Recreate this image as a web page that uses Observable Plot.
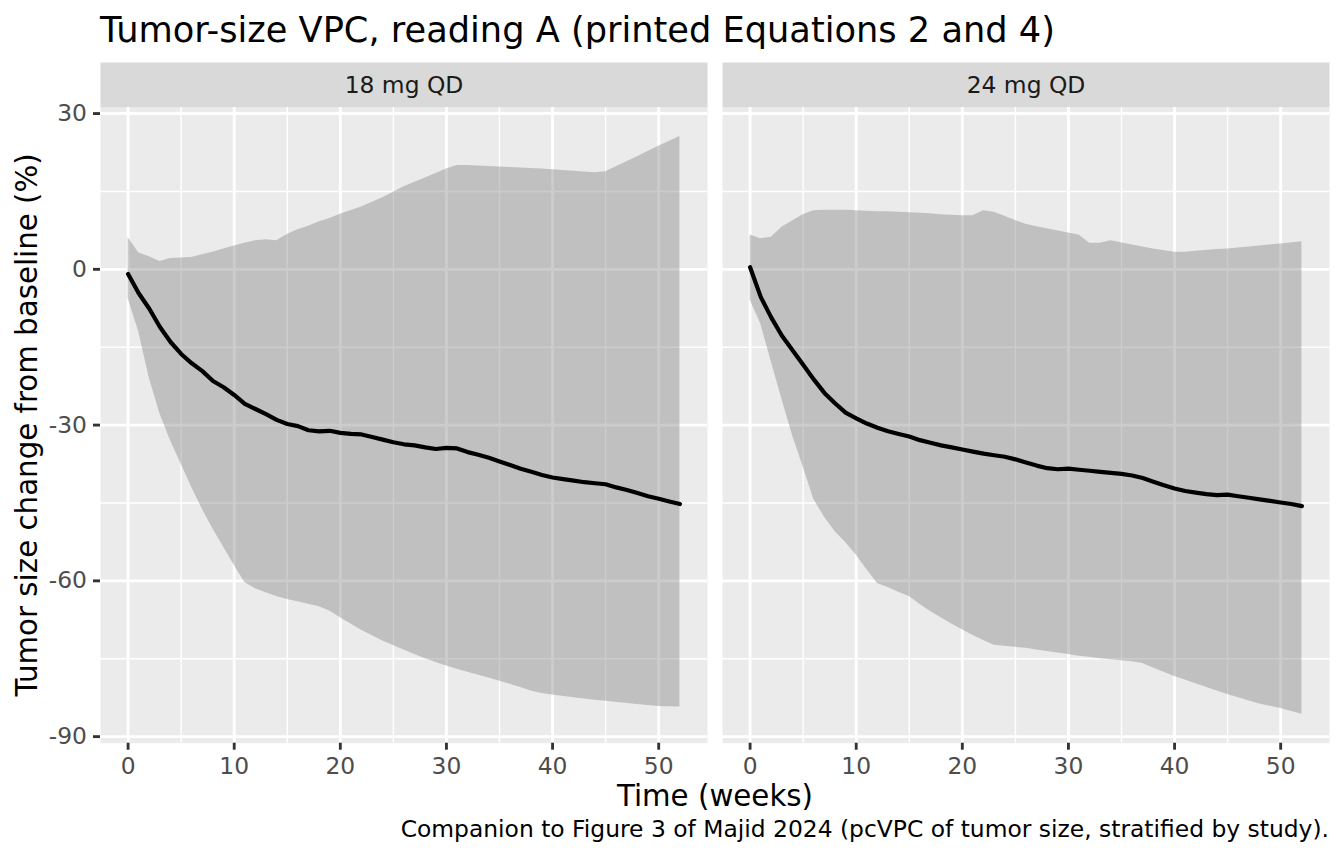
<!DOCTYPE html>
<html>
<head>
<meta charset="utf-8">
<script src="https://cdn.jsdelivr.net/npm/d3@7"></script>
<script src="https://cdn.jsdelivr.net/npm/@observablehq/plot@0.6"></script>
<style>
  html, body { margin: 0; padding: 0; background: white; }
  #chart { width: 1344px; height: 864px; }
</style>
</head>
<body>
<div id="chart"></div>
<script>
// ---- Data ----
const doses = ["18 mg QD", "24 mg QD"];

const xTicks = [0, 10, 20, 30, 40, 50];
const xMinor = [5, 15, 25, 35, 45];
const yTicks = [-90, -60, -30, 0, 30];
const yMinor = [-75, -45, -15, 15];

// median line, weekly
const medWeeks = [0,1,2,3,4,5,6,7,8,9,10,11,12,13,14,15,16,17,18,19,20,21,22,23,24,25,26,27,28,29,30,31,32,33,34,35,36,37,38,39,40,41,42,43,44,45,46,47,48,49,50,51,52];
const med18 = [-0.9,-4.6,-7.6,-11.1,-14.0,-16.3,-18.1,-19.6,-21.5,-22.7,-24.2,-25.9,-26.9,-27.9,-29.0,-29.8,-30.2,-31.0,-31.2,-31.1,-31.5,-31.7,-31.8,-32.3,-32.8,-33.3,-33.7,-33.9,-34.3,-34.6,-34.4,-34.5,-35.2,-35.7,-36.3,-37.0,-37.7,-38.4,-39.0,-39.6,-40.1,-40.4,-40.7,-41.0,-41.2,-41.4,-42.0,-42.5,-43.1,-43.7,-44.2,-44.7,-45.2];
const med24 = [0.4,-5.3,-9.3,-12.8,-15.6,-18.4,-21.2,-23.8,-25.8,-27.6,-28.7,-29.7,-30.5,-31.2,-31.7,-32.2,-32.9,-33.4,-33.9,-34.3,-34.7,-35.1,-35.5,-35.8,-36.1,-36.6,-37.2,-37.8,-38.3,-38.5,-38.4,-38.6,-38.8,-39.0,-39.2,-39.4,-39.7,-40.2,-40.9,-41.6,-42.2,-42.7,-43.0,-43.3,-43.5,-43.4,-43.7,-44.0,-44.3,-44.6,-44.9,-45.2,-45.6];

// prediction interval band, 18 mg QD
const bandWeeks18 = [0,1,2,3,4,5,6,7,8,9,10,11,12,13,14,15,16,17,18,19,20,22,24,26,28,30,31,32,34,36,38,39,40,42,44,45,48,50,52];
const hi18 = [6.1,3.2,2.4,1.5,2.1,2.2,2.3,2.8,3.3,3.9,4.5,5.0,5.5,5.7,5.5,6.7,7.6,8.3,9.1,9.8,10.6,12.0,13.8,15.9,17.6,19.3,20.0,20.0,19.8,19.6,19.4,19.3,19.2,18.9,18.6,18.8,21.7,23.7,25.6];
const lo18 = [-5.6,-12.0,-21.0,-27.8,-33.0,-37.5,-42.0,-46.2,-50.0,-53.5,-57.0,-60.3,-61.5,-62.3,-63.0,-63.6,-64.0,-64.5,-65.0,-65.8,-67.1,-69.5,-71.6,-73.3,-75.0,-76.4,-77.0,-77.6,-78.7,-79.9,-81.2,-81.7,-82.0,-82.5,-83.0,-83.2,-83.8,-84.2,-84.3];

// prediction interval band, 24 mg QD
const bandWeeks24 = [0,1,2,3,4,5,6,7,8,9,10,11,12,13,14,15,16,17,18,19,20,21,22,23,24,25,26,27,28,30,31,32,33,34,36,37,38,40,41,42,44,45,48,50,52];
const hi24 = [6.6,5.9,6.2,8.1,9.3,10.5,11.3,11.4,11.4,11.4,11.3,11.2,11.1,11.1,11.0,10.9,10.8,10.7,10.5,10.4,10.3,10.3,11.3,11.0,10.2,9.4,8.7,8.2,7.8,7.0,6.6,5.0,5.0,5.5,4.7,4.3,3.9,3.3,3.3,3.5,3.8,3.9,4.5,4.9,5.3];
const lo24 = [-5.9,-10.5,-17.8,-25.0,-32.0,-38.0,-44.3,-47.7,-50.5,-52.6,-55.0,-57.8,-60.5,-61.3,-62.2,-63.0,-64.5,-65.9,-67.1,-68.3,-69.4,-70.5,-71.5,-72.4,-72.6,-72.8,-73.0,-73.3,-73.6,-74.2,-74.5,-74.7,-75.0,-75.2,-75.6,-75.9,-76.8,-78.4,-79.1,-79.8,-81.2,-81.9,-83.7,-84.6,-85.7];

const titleText = "Tumor-size VPC, reading A (printed Equations 2 and 4)";
const xTitle = "Time (weeks)";
const yTitle = "Tumor size change from baseline (%)";
const captionText = "Companion to Figure 3 of Majid 2024 (pcVPC of tumor size, stratified by study).";

// ---- tables built from the arrays ----
const bandRows = [
  ...bandWeeks18.map((w, i) => ({dose: doses[0], week: w, lo: lo18[i], hi: hi18[i]})),
  ...bandWeeks24.map((w, i) => ({dose: doses[1], week: w, lo: lo24[i], hi: hi24[i]}))
];
const medRows = [
  ...medWeeks.map((w, i) => ({dose: doses[0], week: w, med: med18[i]})),
  ...medWeeks.map((w, i) => ({dose: doses[1], week: w, med: med24[i]}))
];

// ggplot-like 5% expansion
function expand(ext) { const r = ext[1] - ext[0]; return [ext[0] - 0.05 * r, ext[1] + 0.05 * r]; }
const xDom = expand(d3.extent([...bandRows.map(d => d.week), ...medRows.map(d => d.week)]));
const yDom = expand(d3.extent([...bandRows.flatMap(d => [d.lo, d.hi]), ...medRows.map(d => d.med)]));

// ---- layout ----
const W = 1344, H = 864;
const mTop = 107, mBottom = 121.3, mLeft = 100, mRight = 14;
const panelH = H - mTop - mBottom;
const stripH = 45;
const fs = 23.4;

const svg = Plot.plot({
  width: W,
  height: H,
  marginTop: mTop,
  marginBottom: mBottom,
  marginLeft: mLeft,
  marginRight: mRight,
  style: {fontFamily: "DejaVu Sans", fontSize: fs + "px", background: "white", overflow: "visible"},
  fx: {domain: doses, paddingInner: 0.0235, paddingOuter: 0, axis: null},
  x: {domain: xDom},
  y: {domain: yDom},
  marks: [
    Plot.frame({fill: "#ebebeb", stroke: null}),
    Plot.frame({fill: "#d9d9d9", stroke: null, insetTop: -stripH, insetBottom: panelH}),
    Plot.gridX(xMinor, {stroke: "white", strokeOpacity: 1, strokeWidth: 1.42}),
    Plot.gridY(yMinor, {stroke: "white", strokeOpacity: 1, strokeWidth: 1.42}),
    Plot.gridX(xTicks, {stroke: "white", strokeOpacity: 1, strokeWidth: 2.85}),
    Plot.gridY(yTicks, {stroke: "white", strokeOpacity: 1, strokeWidth: 2.85}),
    Plot.areaY(bandRows, {fx: "dose", x: "week", y1: "lo", y2: "hi", fill: "#7f7f7f", fillOpacity: 0.4}),
    Plot.line(medRows, {fx: "dose", x: "week", y: "med", stroke: "black", strokeWidth: 4.2}),
    Plot.axisX(xTicks, {label: null, tickSize: 7, tickPadding: 7.3, stroke: "#333333", strokeWidth: 2.85, fill: "#4d4d4d", fontSize: fs}),
    Plot.axisY(yTicks, {label: null, tickSize: 7, tickPadding: 6.5, stroke: "#333333", strokeWidth: 2.85, fill: "#4d4d4d", fontSize: fs, tickFormat: d => String(d)}),
    Plot.text(doses, {fx: d => d, text: d => d, frameAnchor: "top", lineAnchor: "middle", dy: -stripH / 2, fontSize: fs, fill: "#1a1a1a"})
  ]
});

const s = d3.select(svg);
s.append("text").attr("x", 100).attr("y", 42).attr("text-anchor", "start").attr("font-size", 35.2).attr("fill", "black").text(titleText);
s.append("text").attr("x", (mLeft + W - mRight) / 2).attr("y", 806).attr("text-anchor", "middle").attr("font-size", 29.3).attr("fill", "black").text(xTitle);
s.append("text").attr("transform", `translate(37,${mTop + panelH / 2}) rotate(-90)`).attr("text-anchor", "middle").attr("font-size", 29.3).attr("fill", "black").text(yTitle);
s.append("text").attr("x", W - 15).attr("y", 837).attr("text-anchor", "end").attr("font-size", fs).attr("fill", "black").text(captionText);

document.getElementById("chart").appendChild(svg);
</script>
</body>
</html>
